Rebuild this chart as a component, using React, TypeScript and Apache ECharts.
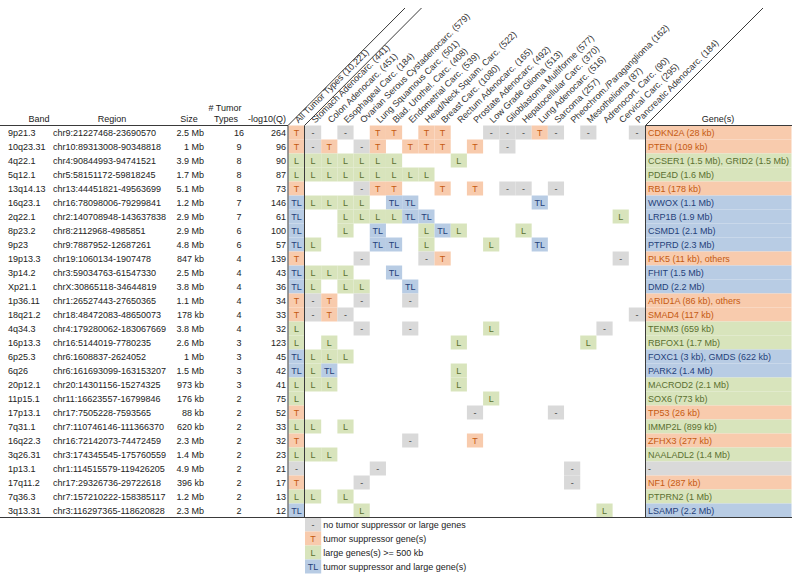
import React, { useEffect, useRef } from 'react';
import * as echarts from 'echarts';

const bands = ['9p21.3','10q23.31','4q22.1','5q12.1','13q14.13','16q23.1','2q22.1','8p23.2','9p23','19p13.3','3p14.2','Xp21.1','1p36.11','18q21.2','4q34.3','16p13.3','6p25.3','6q26','20p12.1','11p15.1','17p13.1','7q31.1','16q22.3','3q26.31','1p13.1','17q11.2','7q36.3','3q13.31'];
const regions = ['chr9:21227468-23690570','chr10:89313008-90348818','chr4:90844993-94741521','chr5:58151172-59818245','chr13:44451821-49563699','chr16:78098006-79299841','chr2:140708948-143637838','chr8:2112968-4985851','chr9:7887952-12687261','chr19:1060134-1907478','chr3:59034763-61547330','chrX:30865118-34644819','chr1:26527443-27650365','chr18:48472083-48650073','chr4:179280062-183067669','chr16:5144019-7780235','chr6:1608837-2624052','chr6:161693099-163153207','chr20:14301156-15274325','chr11:16623557-16799846','chr17:7505228-7593565','chr7:110746146-111366370','chr16:72142073-74472459','chr3:174345545-175760559','chr1:114515579-119426205','chr17:29326736-29722618','chr7:157210222-158385117','chr3:116297365-118620828'];
const sizes = ['2.5 Mb','1 Mb','3.9 Mb','1.7 Mb','5.1 Mb','1.2 Mb','2.9 Mb','2.9 Mb','4.8 Mb','847 kb','2.5 Mb','3.8 Mb','1.1 Mb','178 kb','3.8 Mb','2.6 Mb','1 Mb','1.5 Mb','973 kb','176 kb','88 kb','620 kb','2.3 Mb','1.4 Mb','4.9 Mb','396 kb','1.2 Mb','2.3 Mb'];
const numTumorTypes = [16,9,8,8,8,7,7,6,6,4,4,4,4,4,4,3,3,3,3,2,2,2,2,2,2,2,2,2];
const negLog10Q = [264,96,90,87,73,146,61,100,57,139,43,36,34,33,32,123,45,42,41,75,52,33,32,23,21,17,13,12];
const allTypes = ['T','T','L','L','T','TL','TL','TL','TL','T','TL','TL','T','T','L','L','TL','TL','L','L','T','L','T','L','-','T','L','TL'];
const genes = ['CDKN2A (28 kb)','PTEN (109 kb)','CCSER1 (1.5 Mb), GRID2 (1.5 Mb)','PDE4D (1.6 Mb)','RB1 (178 kb)','WWOX (1.1 Mb)','LRP1B (1.9 Mb)','CSMD1 (2.1 Mb)','PTPRD (2.3 Mb)','PLK5 (11 kb), others','FHIT (1.5 Mb)','DMD (2.2 Mb)','ARID1A (86 kb), others','SMAD4 (117 kb)','TENM3 (659 kb)','RBFOX1 (1.7 Mb)','FOXC1 (3 kb), GMDS (622 kb)','PARK2 (1.4 Mb)','MACROD2 (2.1 Mb)','SOX6 (773 kb)','TP53 (26 kb)','IMMP2L (899 kb)','ZFHX3 (277 kb)','NAALADL2 (1.4 Mb)','-','NF1 (287 kb)','PTPRN2 (1 Mb)','LSAMP (2.2 Mb)'];
const allLabel = 'All Tumor Types (10,221)';
const tumorTypes = ['Stomach Adenocarc. (441)','Colon Adenocarc. (451)','Esophageal Carc. (184)','Ovarian Serous Cystadenocarc. (579)','Lung Squamous Carc. (501)','Blad. Urothel. Carc. (408)','Endometrial Carc. (539)','Head/Neck Squam. Carc. (522)','Breast Carc. (1080)','Rectum Adenocarc. (165)','Prostate Adenocarc. (492)','Low Grade Glioma (513)','Glioblastoma Multiforme (577)','Hepatocellular Carc. (370)','Lung Adenocarc. (516)','Sarcoma (257)','Pheochrom./Paraganglioma (162)','Mesothelioma (87)','Adrenocort. Carc. (90)','Cervical Carc. (295)','Pancreatic Adenocarc. (184)'];
// one string per band, 21 tokens (one per tumor type); '.' = empty
const cellRows = [
  '- . - . T T . T T . . - - - T - . - . . -',
  '- T . - T . T T T . T . - . . . . . . . .',
  'L L L L L L . . . L . . . . . . . . . . .',
  'L L L L L L L L . . . . . . . . . . . . .',
  '. . . - T T . . T . T . - - . - . . . . .',
  'L L L L . TL TL . . . . . . . TL . . . . . .',
  '. . L L L L TL TL . . . . . . . . . . . L .',
  '. . L . TL . . L TL L . . . L . . . . . . .',
  'L . . . TL TL . L . . . L . . TL . . . . . .',
  '. . . - . . . - T . . . . . . . . . . - .',
  'L L L . . TL . . . . . . . . . . . . . . .',
  'L . L L . . TL . . . . . . . . . . . . . .',
  '- T . - . . - . . . . . . . . . . . . . .',
  '- T - . . . . . . . . . . . . . . . . . -',
  '. . . - . . - . . . . L . . . . . . - . .',
  '. L . . . . . . . L . . . . . . . L . . .',
  'L L L . . . . . . . . . . . . . . . . . .',
  'L TL . . . . . . . L . . . . . . . . . . .',
  'L L . . . . . . . L . . . . . . . . . . .',
  '. . . . . . . . . . . L . . . . . . . . .',
  '. . . . . . . . . . - . . . . - . . . . .',
  'L . L . . . . . . . . . . . . . . . . . .',
  '. . . . . . - . . . T . . . . . . . . . .',
  'L L . . . . . . . . . . . . . . . . . . .',
  '. . . . - . . . . . . . . . . . - . . . .',
  '. . . - . . . . . . . . . . . . - . . . .',
  'L . L . . . . . . . . . . . . . . . . . .',
  '. . . L . . . . . . . . . . . . . . L . .',
];
const legendCodes = ['-','T','L','TL'];
const legendTexts = ['no tumor suppressor or large genes','tumor suppressor gene(s)','large genes(s) >= 500 kb','tumor suppressor and large gene(s)'];

const CODES = ['-','T','L','TL'];
const FF = '"Liberation Sans", Arial, sans-serif';
const FS = 9;
const FONT = FS + 'px ' + FF;
const STY: Record<string, { bg: string; fg: string }> = {
  '-': { bg: '#D9D9D9', fg: '#404040' },
  'T': { bg: '#F8CBAD', fg: '#C55A11' },
  'L': { bg: '#D8E4BC', fg: '#5A7030' },
  'TL': { bg: '#B8CCE4', fg: '#25417A' },
};

const TOP = 125.5;
const ROWH = 14;
const H = ROWH * bands.length;

function txt(text: string, x: number, y: number, align: string, fill: string, extra: any = {}) {
  return { type: 'text', x, y, z2: 10, style: { text, font: FONT, fill, align, verticalAlign: 'middle', textAlign: align, textVerticalAlign: 'middle' }, ...extra };
}

export default function App() {
  const ref = useRef<HTMLDivElement>(null);
  useEffect(() => {
    if (!ref.current) return;
    const chart = echarts.init(ref.current, null, { renderer: 'svg' });

    const cellData: number[][] = [];
    cellRows.forEach((r, ri) => {
      r.split(' ').forEach((tok, ci) => {
        if (tok !== '.') cellData.push([ci, ri, CODES.indexOf(tok)]);
      });
    });
    const allData = allTypes.map((c, i) => [0, i, CODES.indexOf(c)]);
    const legendData = legendCodes.map((c, i) => [0, i, CODES.indexOf(c)]);

    const cellRender = (withText: boolean) => (params: any, api: any) => {
      const code = CODES[api.value(2)];
      const st = STY[code];
      const c = api.coord([api.value(0), api.value(1)]);
      const s = api.size([1, 1]);
      const children: any[] = [
        { type: 'rect', shape: { x: c[0] - s[0] / 2, y: c[1] - s[1] / 2, width: s[0], height: s[1] }, style: { fill: st.bg } },
        txt(code, c[0], c[1] + 0.5, 'center', st.fg),
      ];
      if (withText) {
        children.push(txt(legendTexts[api.value(1)], c[0] + s[0] / 2 + 2, c[1] + 0.5, 'left', '#222'));
      }
      return { type: 'group', children };
    };

    const tableRender = (params: any, api: any) => {
      const i = api.value(1);
      const y = api.coord([0, i])[1] + 0.5;
      const px = (v: number) => api.coord([v, i])[0];
      return {
        type: 'group',
        children: [
          txt(bands[i], px(8), y, 'left', '#222'),
          txt(regions[i], px(53), y, 'left', '#222'),
          txt(sizes[i], px(204), y, 'right', '#222'),
          txt(String(numTumorTypes[i]), px(239), y, 'center', '#222'),
          txt(String(negLog10Q[i]), px(286), y, 'right', '#222'),
        ],
      };
    };

    const geneRender = (params: any, api: any) => {
      const i = api.value(1);
      const code = allTypes[i];
      const st = STY[code];
      const c = api.coord([0, i]);
      const s = api.size([146, 1]);
      return {
        type: 'group',
        children: [
          { type: 'rect', shape: { x: c[0], y: c[1] - s[1] / 2, width: s[0], height: s[1] }, style: { fill: st.bg } },
          txt(genes[i], c[0] + 2.5, c[1] + 0.5, 'left', code === '-' ? '#404040' : st.fg),
        ],
      };
    };

    const hidden = { show: false };
    const headerLabel = { interval: 0, rotate: -45, margin: 4, fontSize: FS, fontFamily: FF, color: '#333' };

    const line = (x1: number, y1: number, x2: number, y2: number) => ({
      type: 'line', z: 100, shape: { x1, y1, x2, y2 }, style: { stroke: '#3a3a3a', lineWidth: 1 },
    });
    const gtext = (text: string, x: number, y: number) => ({
      type: 'text', x, y, z: 100, style: { text, font: FONT, fill: '#222', align: 'center', verticalAlign: 'middle', textAlign: 'center', textVerticalAlign: 'middle' },
    });

    chart.setOption({
      animation: false,
      grid: [
        { left: 0, top: TOP, width: 288, height: H },
        { left: 288.5, top: TOP, width: 16, height: H },
        { left: 305, top: TOP, width: 340, height: H },
        { left: 645.5, top: TOP, width: 146, height: H },
        { left: 305, top: TOP + H, width: 16.2, height: 56 },
      ],
      xAxis: [
        { gridIndex: 0, type: 'value', min: 0, max: 288, show: false },
        { gridIndex: 1, type: 'category', data: [allLabel], position: 'top', axisLine: hidden, axisTick: hidden, axisLabel: headerLabel },
        { gridIndex: 2, type: 'category', data: tumorTypes, position: 'top', axisLine: hidden, axisTick: hidden, axisLabel: headerLabel },
        { gridIndex: 3, type: 'value', min: 0, max: 146, show: false },
        { gridIndex: 4, type: 'category', data: ['legend'], show: false },
      ],
      yAxis: [0, 1, 2, 3].map((g) => ({ gridIndex: g, type: 'category', data: bands, inverse: true, show: false }))
        .concat([{ gridIndex: 4, type: 'category', data: legendCodes, inverse: true, show: false }]),
      series: [
        { type: 'custom', xAxisIndex: 0, yAxisIndex: 0, data: bands.map((b, i) => [0, i]), renderItem: tableRender, silent: true },
        { type: 'custom', xAxisIndex: 1, yAxisIndex: 1, data: allData, renderItem: cellRender(false), silent: true },
        { type: 'custom', xAxisIndex: 2, yAxisIndex: 2, data: cellData, renderItem: cellRender(false), silent: true },
        { type: 'custom', xAxisIndex: 3, yAxisIndex: 3, data: bands.map((b, i) => [0, i]), renderItem: geneRender, silent: true },
        { type: 'custom', xAxisIndex: 4, yAxisIndex: 4, data: legendData, renderItem: cellRender(true), silent: true },
      ],
      graphic: [
        gtext('Band', 39, 119),
        gtext('Region', 112, 119),
        gtext('Size', 189, 119),
        gtext('# Tumor', 225, 108),
        gtext('Types', 226, 119),
        gtext('-log10(Q)', 267, 119),
        gtext('Gene(s)', 718, 119),
        line(0, TOP, 288, TOP),
        line(645.5, TOP, 792, TOP),
        line(0, TOP + H, 792, TOP + H),
        line(288, TOP, 288, TOP + H),
        line(304.5, TOP, 304.5, TOP + H),
        line(645.5, TOP, 645.5, TOP + H),
        line(288, TOP, 405, 8),
        line(304.5, TOP, 421.5, 8),
        line(645.5, TOP, 763, 8),
      ],
    });
    return () => chart.dispose();
  }, []);
  return <div ref={ref} style={{ position: 'absolute', left: 0, top: 0, width: 800, height: 579 }} />;
}
